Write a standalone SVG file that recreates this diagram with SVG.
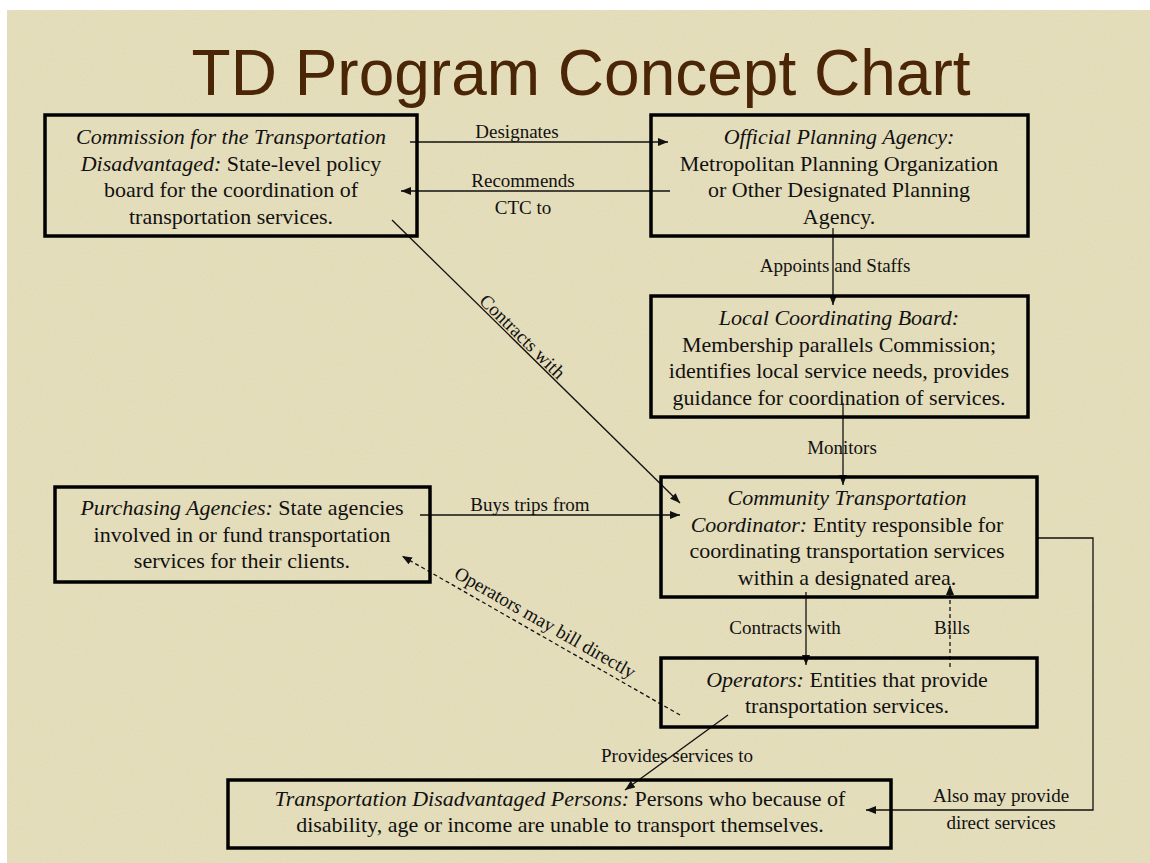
<svg xmlns="http://www.w3.org/2000/svg" width="1150" height="863" viewBox="0 0 1150 863">
<defs>
<marker id="arr" markerUnits="userSpaceOnUse" markerWidth="10" markerHeight="8" refX="10" refY="4" orient="auto">
<path d="M0,0 L10,4 L0,8 z" fill="#111"/>
</marker>
<filter id="grain" x="0" y="0" width="100%" height="100%">
<feTurbulence type="fractalNoise" baseFrequency="0.6" numOctaves="2" seed="3" result="n"/>
<feColorMatrix in="n" type="matrix" values="0 0 0 0 0.55  0 0 0 0 0.5  0 0 0 0 0.35  0 0 0 0.18 0"/>
</filter>
<style>
.box{fill:none;stroke:#000;stroke-width:3.5}
.t{font-family:"Liberation Serif","Times New Roman",serif;font-size:22px;fill:#111;text-anchor:middle}
.i{font-style:italic}
.lbl{font-family:"Liberation Serif","Times New Roman",serif;font-size:19px;fill:#111;text-anchor:middle}
.c{fill:none;stroke:#111;stroke-width:1.3}
.d{fill:none;stroke:#111;stroke-width:1.3;stroke-dasharray:4 3}
</style>
</defs>
<rect x="0" y="0" width="1150" height="863" fill="#ffffff"/>
<rect x="7" y="10" width="1143" height="853" fill="#e7e0bd"/>
<rect x="7" y="10" width="1143" height="853" filter="url(#grain)"/>
<text x="581" y="95" font-family="'Liberation Sans',Arial,sans-serif" font-size="64" fill="#4a2606" text-anchor="middle">TD Program Concept Chart</text>

<g id="connectors">
<line class="c" x1="410" y1="142" x2="668" y2="142" marker-end="url(#arr)"/>
<line class="c" x1="670" y1="191" x2="401" y2="191" marker-end="url(#arr)"/>
<line class="c" x1="833" y1="228" x2="833" y2="305" marker-end="url(#arr)"/>
<line class="c" x1="843" y1="403" x2="843" y2="485" marker-end="url(#arr)"/>
<line class="c" x1="392" y1="220" x2="680" y2="503" marker-end="url(#arr)"/>
<line class="c" x1="420" y1="515" x2="680" y2="515" marker-end="url(#arr)"/>
<line class="c" x1="806" y1="592" x2="806" y2="665" marker-end="url(#arr)"/>
<line class="d" x1="950" y1="667" x2="950" y2="585" marker-end="url(#arr)"/>
<line class="d" x1="680" y1="715" x2="402" y2="556" marker-end="url(#arr)"/>
<line class="c" x1="728" y1="715" x2="625" y2="790" marker-end="url(#arr)"/>
<polyline class="c" points="1037,538 1093,538 1093,810 866,810" marker-end="url(#arr)"/>
<text class="lbl" x="517" y="138">Designates</text>
<text class="lbl" x="523" y="187">Recommends</text>
<text class="lbl" x="523" y="214">CTC to</text>
<text class="lbl" x="835" y="272">Appoints and Staffs</text>
<text class="lbl" x="842" y="454">Monitors</text>
<text class="lbl" transform="translate(518,341) rotate(44.6)">Contracts with</text>
<text class="lbl" x="530" y="511">Buys trips from</text>
<text class="lbl" x="785" y="634">Contracts with</text>
<text class="lbl" x="952" y="634">Bills</text>
<text class="lbl" transform="translate(542,628) rotate(29.8)">Operators may bill directly</text>
<text class="lbl" x="677" y="762">Provides services to</text>
<text class="lbl" x="1001" y="802">Also may provide</text>
<text class="lbl" x="1001" y="829">direct services</text>
</g>

<g id="commission">
<rect class="box" x="45" y="115" width="372" height="121"/>
<text class="t" x="231" y="144"><tspan class="i">Commission for the Transportation</tspan></text>
<text class="t" x="231" y="170.5"><tspan class="i">Disadvantaged:</tspan> State-level policy</text>
<text class="t" x="231" y="197">board for the coordination of</text>
<text class="t" x="231" y="223.5">transportation services.</text>
</g>

<g id="planning-agency">
<rect class="box" x="651" y="115" width="377" height="121"/>
<text class="t" x="839" y="144"><tspan class="i">Official Planning Agency:</tspan></text>
<text class="t" x="839" y="170.5">Metropolitan Planning Organization</text>
<text class="t" x="839" y="197">or Other Designated Planning</text>
<text class="t" x="839" y="223.5">Agency.</text>
</g>

<g id="local-board">
<rect class="box" x="651" y="296" width="377" height="121"/>
<text class="t" x="839" y="325"><tspan class="i">Local Coordinating Board:</tspan></text>
<text class="t" x="839" y="351.5">Membership parallels Commission;</text>
<text class="t" x="839" y="378">identifies local service needs, provides</text>
<text class="t" x="839" y="404.5">guidance for coordination of services.</text>
</g>

<g id="ctc">
<rect class="box" x="661" y="477" width="376" height="120"/>
<text class="t" x="847" y="505"><tspan class="i">Community Transportation</tspan></text>
<text class="t" x="847" y="531.5"><tspan class="i">Coordinator:</tspan> Entity responsible for</text>
<text class="t" x="847" y="558">coordinating transportation services</text>
<text class="t" x="847" y="584.5">within a designated area.</text>
</g>

<g id="purchasing">
<rect class="box" x="55" y="487" width="375" height="95"/>
<text class="t" x="242" y="515"><tspan class="i">Purchasing Agencies:</tspan> State agencies</text>
<text class="t" x="242" y="541.5">involved in or fund transportation</text>
<text class="t" x="242" y="568">services for their clients.</text>
</g>

<g id="operators">
<rect class="box" x="661" y="658" width="376" height="69"/>
<text class="t" x="847" y="687"><tspan class="i">Operators:</tspan> Entities that provide</text>
<text class="t" x="847" y="713">transportation services.</text>
</g>

<g id="td-persons">
<rect class="box" x="228" y="780" width="663" height="68"/>
<text class="t" x="560" y="806"><tspan class="i">Transportation Disadvantaged Persons:</tspan> Persons who because of</text>
<text class="t" x="560" y="832">disability, age or income are unable to transport themselves.</text>
</g>
</svg>
